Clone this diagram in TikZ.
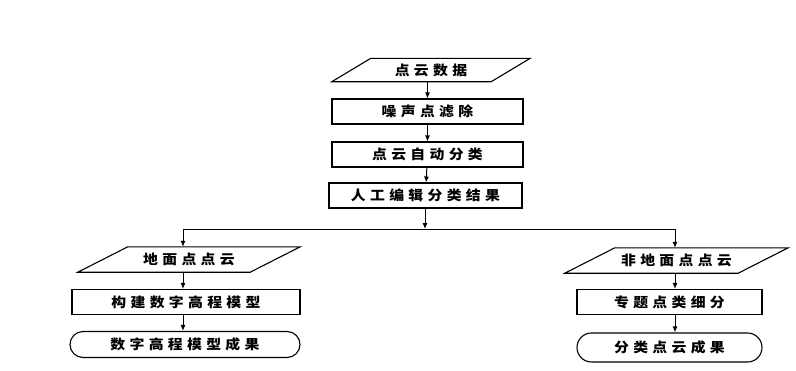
\documentclass[tikz,border=0pt]{standalone}
\usepackage{fontspec}
\usetikzlibrary{shapes.misc,arrows.meta,calc}
\newfontfamily\cjk[LetterSpace=32,FakeStretch=1.1]{Noto Sans CJK SC}
\newcommand{\parashape}[2]{%
  \draw[line width=1.1pt] ($(#1.north west)+(#2/2,0)$) -- ($(#1.north east)+(#2/2,0)$)
    -- ($(#1.south east)-(#2/2,0)$) -- ($(#1.south west)-(#2/2,0)$) -- cycle;}
\begin{document}
\begin{tikzpicture}[x=1pt,y=-1pt,
  every node/.style={font=\cjk\bfseries\fontsize{13.5}{13.5}\selectfont, inner sep=0pt},
  box/.style={draw, line width=1.1pt, minimum height=25pt},
  paratext/.style={minimum height=23pt},
  term/.style={draw, line width=1.1pt, rounded rectangle, minimum height=26pt},
  arr/.style={line width=1pt, -{Latex[length=6pt,width=5pt]}},
  ln/.style={line width=1pt}]
\fill[white] (0,0) rectangle (796,370);
\useasboundingbox (0,0) rectangle (796,370);
\node[paratext, minimum width=159pt] (d1) at (431,70) {点云数据};
\node[box, minimum width=191pt] (b1) at (427.5,111.5) {噪声点滤除};
\node[box, minimum width=191pt] (b2) at (427.5,154.5) {点云自动分类};
\node[box, minimum width=193pt] (b3) at (425.5,195.5) {人工编辑分类结果};
\coordinate (j) at (425,229);
\coordinate (jl) at (183,229);
\coordinate (jr) at (675,229);
\node[paratext, minimum width=172pt, minimum height=25pt] (l1) at (189,259.5) {地面点点云};
\node[box, minimum width=228pt] (l2) at (186,302) {构建数字高程模型};
\node[term, minimum width=230pt] (l3) at (185,344.5) {数字高程模型成果};
\node[paratext, minimum width=173pt, minimum height=25pt] (r1) at (676.5,260.5) {非地面点点云};
\node[box, minimum width=185pt] (r2) at (669.5,302) {专题点类细分};
\node[term, minimum width=185pt, minimum height=29pt] (r3) at (669.5,347.5) {分类点云成果};
\parashape{d1}{39}
\parashape{l1}{50}
\parashape{r1}{50}
\draw[arr] (d1.south -| b1) -- (b1.north);
\draw[arr] (b1) -- (b2);
\draw[arr] (b2) -- (b3);
\draw[arr] (b3.south -| j) -- (j);
\draw[ln] (jl) -- (jr);
\draw[arr] (jl) -- (jl |- l1.north);
\draw[arr] (jr) -- (jr |- r1.north);
\draw[arr] (l1.south -| jl) -- (jl |- l2.north);
\draw[arr] (l2.south -| jl) -- (jl |- l3.north);
\draw[arr] (r1.south -| jr) -- (jr |- r2.north);
\draw[arr] (r2.south -| jr) -- (jr |- r3.north);
\end{tikzpicture}
\end{document}
